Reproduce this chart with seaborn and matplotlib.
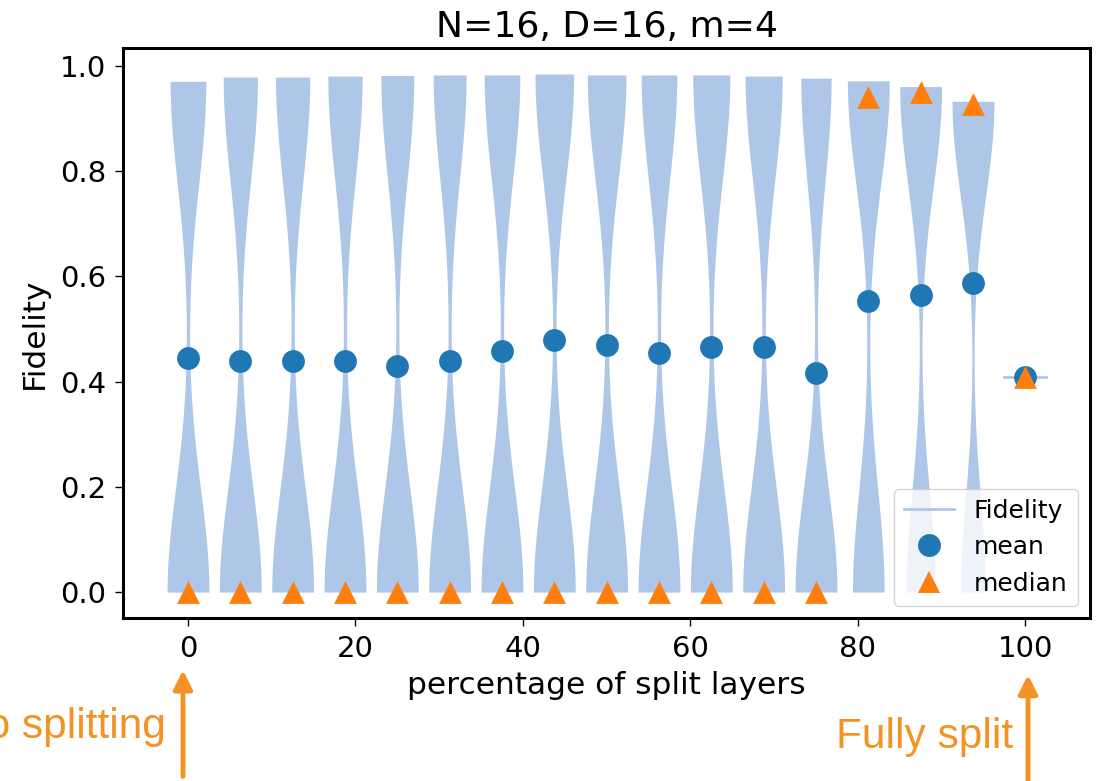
import numpy as np
import pandas as pd
import matplotlib
matplotlib.use("Agg")
import matplotlib.pyplot as plt
from matplotlib.lines import Line2D
import seaborn as sns

# percentage of split layers (0 .. 16 of 16 layers)
pct = [0, 6.25, 12.5, 18.75, 25, 31.25, 37.5, 43.75, 50, 56.25,
       62.5, 68.75, 75, 81.25, 87.5, 93.75, 100]

# highest fidelity reached per setting (top of each violin)
fid_max = [0.971, 0.979, 0.979, 0.981, 0.982, 0.983, 0.983, 0.985, 0.983,
           0.983, 0.983, 0.981, 0.977, 0.972, 0.961, 0.933, 0.409]

# number of runs (of 100) that ended near the top / stuck at zero
runs_high = [46, 45, 45, 45, 44, 44, 46, 48, 48, 46, 47, 47, 42, 57, 59, 63, 1]
runs_low = [54, 55, 55, 55, 56, 56, 54, 52, 52, 54, 53, 53, 58, 43, 41, 37, 0]

fid_mean = [0.445, 0.440, 0.440, 0.440, 0.429, 0.439, 0.458, 0.479, 0.469,
            0.454, 0.466, 0.465, 0.416, 0.553, 0.565, 0.587, 0.409]
fid_median = [0.0, 0.0, 0.0, 0.0, 0.0, 0.0, 0.0, 0.0, 0.0, 0.0, 0.0, 0.0,
              0.0, 0.942, 0.950, 0.927, 0.409]

VIOLIN_COLOR = '#aec7e8'
NOTE_COLOR = '#f39325'


def build_samples():
    rows = []
    for p, top, nh, nl in zip(pct, fid_max, runs_high, runs_low):
        vals = [0.0] * nl + [top] * nh
        for v in vals:
            rows.append({'pct': p, 'Fidelity': v})
    return pd.DataFrame(rows)


def main():
    df = build_samples()
    # the fully split case only has a single value -> drawn as a line
    df_violin = df[df['pct'] < 100]
    df_single = df[df['pct'] == 100]

    fig = plt.figure(figsize=(10.99, 7.81), dpi=100)
    ax = fig.add_axes([0.112, 0.2087, 0.880, 0.7298])

    sns.violinplot(data=df_violin, x='pct', y='Fidelity', native_scale=True,
                   cut=0, inner=None, density_norm='width', width=0.8,
                   color=VIOLIN_COLOR, saturation=1, linewidth=0, ax=ax)

    # single observation violin
    spacing = np.min(np.diff(pct))
    half = 0.8 * spacing / 2
    for p in df_single['pct'].unique():
        v = df_single.loc[df_single['pct'] == p, 'Fidelity'].iloc[0]
        ax.plot([p - half, p + half], [v, v], color=VIOLIN_COLOR, lw=2,
                zorder=1)

    ax.scatter(pct, fid_mean, s=270, marker='o', color='#1f77b4',
               linewidths=0, zorder=3)
    ax.scatter(pct, fid_median, s=270, marker='^', color='#ff7f0e',
               linewidths=0, zorder=4)

    ax.set_xticks(range(0, 101, 20))
    ax.set_yticks(np.arange(0, 1.01, 0.2))
    ax.tick_params(labelsize=21, length=6, width=1, pad=6)
    for sp in ax.spines.values():
        sp.set_linewidth(2.2)
        sp.set_color('black')

    ax.set_title('N=16, D=16, m=4', fontsize=26, pad=8)
    ax.set_xlabel('percentage of split layers', fontsize=22.5, labelpad=6)
    ax.set_ylabel('Fidelity', fontsize=22.5, labelpad=8)

    handles = [Line2D([], [], color=VIOLIN_COLOR, lw=2),
               Line2D([], [], ls='none', marker='o', ms=16.5,
                      color='#1f77b4', mew=0),
               Line2D([], [], ls='none', marker='^', ms=16.5,
                      color='#ff7f0e', mew=0)]
    ax.legend(handles, ['Fidelity', 'mean', 'median'], loc='lower right',
              fontsize=18)

    # annotations below the axis
    arrow_kw = dict(arrowstyle='-|>', color=NOTE_COLOR, lw=3.5,
                    mutation_scale=28, shrinkA=0, shrinkB=0)
    ax.annotate('', xy=(0.1665, 0.142), xytext=(0.1665, 0.006),
                xycoords='figure fraction', textcoords='figure fraction',
                arrowprops=arrow_kw, annotation_clip=False)
    ax.annotate('', xy=(0.9354, 0.136), xytext=(0.9354, 0.0),
                xycoords='figure fraction', textcoords='figure fraction',
                arrowprops=arrow_kw, annotation_clip=False)
    fig.text(0.151, 0.055, 'No splitting', ha='right', va='baseline',
             fontsize=30.5, color=NOTE_COLOR, family='Liberation Sans')
    fig.text(0.922, 0.042, 'Fully split', ha='right', va='baseline',
             fontsize=30.5, color=NOTE_COLOR, family='Liberation Sans')

    fig.savefig('out.png', dpi=100)


if __name__ == '__main__':
    main()
